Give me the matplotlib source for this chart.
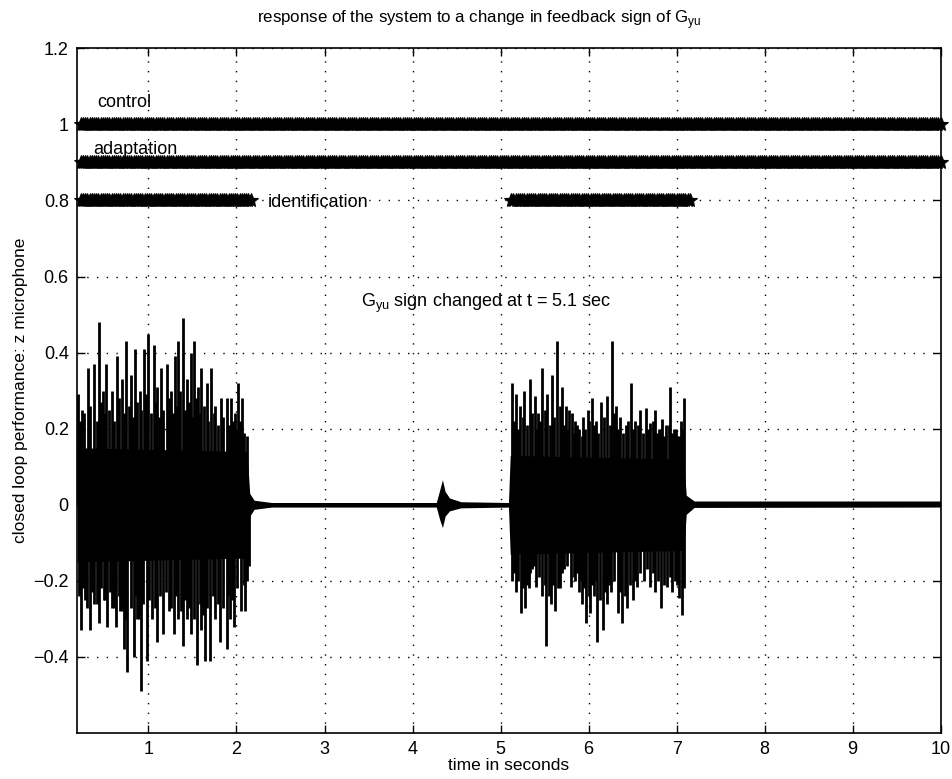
import numpy as np
import matplotlib
matplotlib.use("Agg")
import matplotlib.pyplot as plt

plt.rcParams['font.family'] = ['Liberation Sans', 'DejaVu Sans']

# body envelope of the microphone signal
env_t = [0.19, 2.12, 2.15, 2.2, 2.4, 4.27, 4.31, 4.34, 4.37, 4.42, 4.55, 5.09, 5.11, 7.08, 7.11, 7.2, 10.0]
env_hi = [0.15, 0.14, 0.03, 0.012, 0.006, 0.006, 0.04, 0.066, 0.035, 0.018, 0.008, 0.006, 0.13, 0.12, 0.025, 0.01, 0.01]
env_lo = [-0.15, -0.14, -0.03, -0.012, -0.006, -0.006, -0.04, -0.06, -0.03, -0.016, -0.008, -0.006, -0.13, -0.12, -0.025, -0.007, -0.006]

# main positive spikes
up_t = [0.20, 0.25, 0.31, 0.38, 0.44, 0.48, 0.52, 0.58, 0.64, 0.70, 0.75, 0.80, 0.85, 0.90, 0.95, 1.00,
        1.06, 1.10, 1.14, 1.21, 1.26, 1.30, 1.34, 1.39, 1.44, 1.48, 1.52, 1.56, 1.60, 1.66, 1.71, 1.76,
        1.82, 1.89, 1.94, 1.98, 2.02, 2.06, 2.12,
        5.13, 5.17, 5.22, 5.27, 5.34, 5.39, 5.43, 5.47, 5.53, 5.59, 5.64, 5.70, 5.74, 5.78, 5.81, 5.85,
        5.89, 5.94, 5.99, 6.04, 6.09, 6.14, 6.21, 6.27, 6.31, 6.36, 6.42, 6.48, 6.53, 6.59, 6.65, 6.70,
        6.76, 6.80, 6.84, 6.88, 6.93, 6.97, 7.01, 7.05, 7.08]
up_v = [0.29, 0.25, 0.36, 0.37, 0.48, 0.30, 0.37, 0.30, 0.39, 0.33, 0.43, 0.34, 0.41, 0.30, 0.41, 0.45,
        0.42, 0.31, 0.36, 0.37, 0.30, 0.39, 0.43, 0.49, 0.33, 0.40, 0.43, 0.31, 0.36, 0.32, 0.36, 0.26,
        0.28, 0.28, 0.28, 0.24, 0.32, 0.28, 0.18,
        0.32, 0.29, 0.26, 0.30, 0.33, 0.285, 0.24, 0.36, 0.29, 0.34, 0.43, 0.31, 0.26, 0.25, 0.24, 0.22,
        0.20, 0.23, 0.25, 0.28, 0.22, 0.27, 0.285, 0.43, 0.26, 0.23, 0.21, 0.32, 0.22, 0.25, 0.255, 0.215,
        0.25, 0.20, 0.225, 0.21, 0.31, 0.20, 0.18, 0.22, 0.28]

# smaller positive spikes filling the bursts
up_mid_t = [0.22, 0.27, 0.34, 0.41, 0.46, 0.50, 0.55, 0.61, 0.67, 0.72, 0.78, 0.82, 0.87, 0.92, 0.97, 1.03,
            1.08, 1.12, 1.17, 1.23, 1.28, 1.32, 1.36, 1.42, 1.46, 1.50, 1.54, 1.58, 1.63, 1.68, 1.74, 1.79,
            1.85, 1.92, 1.96, 2.00, 2.04, 2.09,
            5.15, 5.20, 5.25, 5.30, 5.36, 5.41, 5.45, 5.50, 5.56, 5.61, 5.67, 5.72, 5.76, 5.83, 5.87, 5.92,
            5.96, 6.01, 6.06, 6.11, 6.17, 6.24, 6.29, 6.33, 6.39, 6.45, 6.50, 6.56, 6.62, 6.67, 6.73, 6.78,
            6.82, 6.86, 6.91, 6.95, 6.99, 7.03, 7.06]
up_mid_v = [0.22, 0.24, 0.26, 0.22, 0.27, 0.24, 0.25, 0.22, 0.28, 0.24, 0.26, 0.23, 0.27, 0.25, 0.29, 0.24,
            0.27, 0.23, 0.25, 0.28, 0.24, 0.26, 0.30, 0.25, 0.27, 0.23, 0.28, 0.24, 0.26, 0.22, 0.24, 0.21,
            0.23, 0.21, 0.22, 0.20, 0.22, 0.19,
            0.22, 0.20, 0.23, 0.21, 0.24, 0.20, 0.22, 0.25, 0.21, 0.23, 0.26, 0.21, 0.20, 0.19, 0.21, 0.18,
            0.20, 0.22, 0.21, 0.19, 0.23, 0.21, 0.24, 0.20, 0.19, 0.22, 0.20, 0.21, 0.19, 0.20, 0.22, 0.19,
            0.20, 0.18, 0.21, 0.19, 0.20, 0.18, 0.20]

# main negative spikes
dn_t = [0.23, 0.28, 0.33, 0.38, 0.44, 0.49, 0.53, 0.58, 0.63, 0.68, 0.72, 0.76, 0.83, 0.87, 0.91, 0.98,
        1.04, 1.10, 1.17, 1.23, 1.29, 1.34, 1.39, 1.44, 1.48, 1.55, 1.60, 1.64, 1.70, 1.76, 1.81, 1.89,
        1.93, 1.97, 2.05, 2.10, 2.14,
        5.13, 5.17, 5.23, 5.28, 5.32, 5.36, 5.40, 5.47, 5.52, 5.57, 5.62, 5.67, 5.72, 5.80, 5.85, 5.89,
        5.93, 5.97, 6.02, 6.06, 6.10, 6.16, 6.21, 6.25, 6.33, 6.38, 6.44, 6.50, 6.55, 6.63, 6.70, 6.76,
        6.82, 6.89, 6.95, 7.03, 7.06]
dn_v = [-0.33, -0.25, -0.33, -0.26, -0.31, -0.25, -0.32, -0.27, -0.32, -0.28, -0.38, -0.44, -0.40, -0.30,
        -0.49, -0.41, -0.30, -0.36, -0.34, -0.28, -0.34, -0.30, -0.37, -0.30, -0.34, -0.42, -0.33, -0.41,
        -0.41, -0.30, -0.36, -0.38, -0.30, -0.32, -0.28, -0.28, -0.16,
        -0.20, -0.23, -0.285, -0.27, -0.22, -0.17, -0.215, -0.24, -0.37, -0.26, -0.28, -0.22, -0.17, -0.215,
        -0.20, -0.23, -0.26, -0.31, -0.285, -0.24, -0.36, -0.33, -0.26, -0.23, -0.285, -0.31, -0.27, -0.25,
        -0.215, -0.20, -0.215, -0.23, -0.27, -0.215, -0.23, -0.245, -0.29]

# smaller negative spikes filling the bursts
dn_mid_t = [0.21, 0.26, 0.30, 0.36, 0.41, 0.46, 0.51, 0.56, 0.61, 0.66, 0.70, 0.74, 0.80, 0.85, 0.89, 0.94,
            1.01, 1.07, 1.13, 1.20, 1.26, 1.31, 1.37, 1.42, 1.46, 1.52, 1.58, 1.62, 1.67, 1.73, 1.79, 1.85,
            1.91, 1.95, 2.01, 2.08, 2.12,
            5.15, 5.20, 5.26, 5.30, 5.34, 5.38, 5.44, 5.50, 5.55, 5.60, 5.65, 5.70, 5.76, 5.83, 5.87, 5.91,
            5.95, 6.00, 6.04, 6.08, 6.13, 6.19, 6.23, 6.29, 6.36, 6.41, 6.47, 6.53, 6.59, 6.66, 6.73, 6.79,
            6.86, 6.92, 6.98, 7.01, 7.08]
dn_mid_v = [-0.24, -0.22, -0.27, -0.23, -0.26, -0.22, -0.25, -0.23, -0.27, -0.24, -0.28, -0.30, -0.27, -0.24,
            -0.30, -0.26, -0.25, -0.27, -0.24, -0.23, -0.27, -0.24, -0.28, -0.25, -0.27, -0.30, -0.26, -0.29,
            -0.27, -0.24, -0.26, -0.27, -0.24, -0.25, -0.22, -0.21, -0.20,
            -0.18, -0.20, -0.22, -0.21, -0.18, -0.16, -0.19, -0.21, -0.24, -0.21, -0.22, -0.18, -0.16, -0.19,
            -0.18, -0.20, -0.22, -0.24, -0.21, -0.20, -0.25, -0.23, -0.21, -0.20, -0.23, -0.24, -0.21, -0.20,
            -0.18, -0.17, -0.18, -0.20, -0.21, -0.19, -0.20, -0.21, -0.22]

# status indicator lines: (start, end, level)
control_seg = [(0.23, 10.0, 1.0)]
adaptation_seg = [(0.23, 10.0, 0.9)]
ident_seg = [(0.23, 2.16, 0.8), (5.12, 7.15, 0.8)]

x_ticks = [1, 2, 3, 4, 5, 6, 7, 8, 9, 10]
y_ticks = [-0.4, -0.2, 0, 0.2, 0.4, 0.6, 0.8, 1.0, 1.2]
y_ticklabels = ['\u22120.4', '\u22120.2', '0', '0.2', '0.4', '0.6', '0.8', '1', '1.2']

fig = plt.figure(figsize=(9.53, 7.79), dpi=100)
ax = fig.add_axes([0.081, 0.059, 0.906, 0.879])

ax.fill_between(env_t, env_lo, env_hi, color='black', linewidth=0)
ax.vlines(up_t, 0, up_v, color='black', linewidth=2.0)
ax.vlines(dn_t, dn_v, 0, color='black', linewidth=2.0)
ax.vlines(up_mid_t, 0, up_mid_v, color='black', linewidth=2.0)
ax.vlines(dn_mid_t, dn_mid_v, 0, color='black', linewidth=2.0)

for segs in (control_seg, adaptation_seg, ident_seg):
    for t0, t1, lev in segs:
        n = int((t1 - t0) * 40) + 1
        xs = np.linspace(t0, t1, n)
        ax.plot(xs, np.full(n, lev), linestyle='none', marker='*', markersize=10,
                markeredgewidth=0.8, color='black', clip_on=False)

ax.text(0.42, 1.058, 'control', fontsize=13, va='center')
ax.text(0.375, 0.935, 'adaptation', fontsize=13, va='center')
ax.text(2.35, 0.795, 'identification', fontsize=13, va='center')
ax.text(3.41, 0.53, r'G$_{\mathregular{yu}}$ sign changed at t = 5.1 sec', fontsize=13, va='center')

ax.set_xlim(0.19, 10)
ax.set_ylim(-0.6, 1.2)
ax.set_xticks(x_ticks)
ax.set_yticks(y_ticks)
ax.set_yticklabels(y_ticklabels)
ax.tick_params(direction='in', top=True, right=True, labelsize=13, length=6, width=1.0, pad=6)
ax.grid(True, color='black', linestyle=(0, (1, 6)), linewidth=1.0)
for s in ax.spines.values():
    s.set_linewidth(1.2)

fig.text(0.503, 0.975, r'response of the system to a change in feedback sign of G$_{\mathregular{yu}}$',
         fontsize=12.2, ha='center', va='center')
ax.set_xlabel('time in seconds', fontsize=12.5, labelpad=0)
ax.set_ylabel('closed loop performance: z microphone', fontsize=12.5, labelpad=4)

fig.savefig('out.png', dpi=100)
